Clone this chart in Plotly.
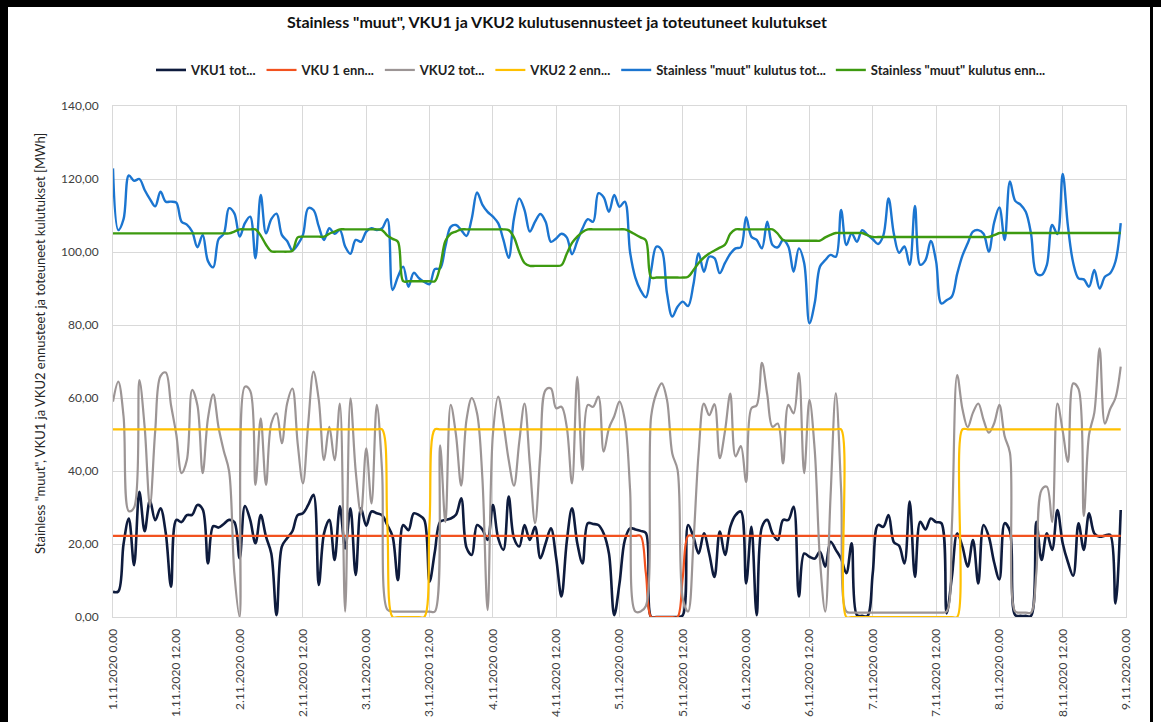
import plotly.graph_objects as go
import pandas as pd

# ---------------- data (hourly, 1.11.2020 0:00 -> 8.11.2020 23:00) ----------------
time_labels = ["1.11.2020 0.00", "1.11.2020 12.00", "2.11.2020 0.00", "2.11.2020 12.00",
               "3.11.2020 0.00", "3.11.2020 12.00", "4.11.2020 0.00", "4.11.2020 12.00",
               "5.11.2020 0.00", "5.11.2020 12.00", "6.11.2020 0.00", "6.11.2020 12.00",
               "7.11.2020 0.00", "7.11.2020 12.00", "8.11.2020 0.00", "8.11.2020 12.00",
               "9.11.2020 0.00"]
y_tick_values = [0, 20, 40, 60, 80, 100, 120, 140]
y_tick_labels = ["0,00", "20,00", "40,00", "60,00", "80,00", "100,00", "120,00", "140,00"]

vku1_tot = [
    6.9, 7.0, 20.0, 27.0, 14.2, 34.3, 23.5, 32.0, 26.5, 29.8, 23.0, 8.3,
    26.6, 26.0, 27.9, 28.0, 30.7, 29.5, 14.7, 24.9, 24.5, 25.5, 26.6, 26.0,
    16.1, 30.4, 26.6, 20.2, 27.9, 22.0, 17.4, 0.5, 19.3, 21.6, 23.5, 27.9,
    28.4, 30.7, 33.5, 8.8, 22.9, 26.6, 15.6, 30.3, 18.8, 29.8, 11.5, 29.8,
    25.0, 28.9, 28.4, 27.9, 25.2, 22.0, 10.1, 25.2, 23.8, 28.4, 27.9, 26.6,
    9.7, 17.9, 26.1, 26.6, 27.0, 28.0, 32.5, 19.0, 17.0, 25.2, 24.0, 21.1,
    30.7, 21.6, 18.4, 33.0, 21.6, 19.3, 25.2, 21.1, 24.7, 16.1, 20.2, 24.3,
    16.1, 5.6, 20.6, 29.8, 20.2, 14.7, 25.7, 25.5, 25.2, 22.9, 17.4, 0.5,
    9.2, 21.0, 24.3, 24.0, 23.6, 23.0, 0.0, 0.0, 0.0, 0.0, 0.0, 0.0,
    0.5, 25.2, 22.0, 17.4, 22.9, 17.4, 11.0, 23.4, 17.0, 24.7, 27.9, 28.9,
    9.2, 24.7, 0.5, 24.7, 26.6, 22.9, 21.1, 26.6, 26.6, 30.2, 5.6, 17.4,
    16.5, 16.0, 17.9, 13.8, 20.6, 18.4, 16.0, 12.0, 20.2, 0.5, 0.3, 0.3,
    12.0, 25.2, 24.7, 27.9, 20.5, 19.5, 14.7, 31.6, 11.0, 26.1, 24.0, 27.0,
    26.0, 25.7, 1.0, 11.0, 22.9, 19.3, 13.8, 21.1, 9.2, 25.2, 22.0, 15.0,
    10.3, 25.7, 23.5, 0.5, 0.3, 0.3, 0.3, 26.1, 15.6, 22.9, 18.4, 29.3,
    20.2, 15.0, 11.3, 25.7, 18.4, 28.4, 22.9, 22.0, 22.3, 22.5, 3.7, 29.3,
]

vku1_enn = [
    22.2, 22.2, 22.2, 22.2, 22.2, 22.2, 22.2, 22.2, 22.2, 22.2, 22.2, 22.2,
    22.2, 22.2, 22.2, 22.2, 22.2, 22.2, 22.2, 22.2, 22.2, 22.2, 22.2, 22.2,
    22.2, 22.2, 22.2, 22.2, 22.2, 22.2, 22.2, 22.2, 22.2, 22.2, 22.2, 22.2,
    22.2, 22.2, 22.2, 22.2, 22.2, 22.2, 22.2, 22.2, 22.2, 22.2, 22.2, 22.2,
    22.2, 22.2, 22.2, 22.2, 22.2, 22.2, 22.2, 22.2, 22.2, 22.2, 22.2, 22.2,
    22.2, 22.2, 22.2, 22.2, 22.2, 22.2, 22.2, 22.2, 22.2, 22.2, 22.2, 22.2,
    22.2, 22.2, 22.2, 22.2, 22.2, 22.2, 22.2, 22.2, 22.2, 22.2, 22.2, 22.2,
    22.2, 22.2, 22.2, 22.2, 22.2, 22.2, 22.2, 22.2, 22.2, 22.2, 22.2, 22.2,
    22.2, 22.2, 22.2, 22.2, 22.2, 12.0, 0.0, 0.0, 0.0, 0.0, 0.0, 0.0,
    11.0, 22.2, 22.2, 22.2, 22.2, 22.2, 22.2, 22.2, 22.2, 22.2, 22.2, 22.2,
    22.2, 22.2, 22.2, 22.2, 22.2, 22.2, 22.2, 22.2, 22.2, 22.2, 22.2, 22.2,
    22.2, 22.2, 22.2, 22.2, 22.2, 22.2, 22.2, 22.2, 22.2, 22.2, 22.2, 22.2,
    22.2, 22.2, 22.2, 22.2, 22.2, 22.2, 22.2, 22.2, 22.2, 22.2, 22.2, 22.2,
    22.2, 22.2, 22.2, 22.2, 22.2, 22.2, 22.2, 22.2, 22.2, 22.2, 22.2, 22.2,
    22.2, 22.2, 22.2, 22.2, 22.2, 22.2, 22.2, 22.2, 22.2, 22.2, 22.2, 22.2,
    22.2, 22.2, 22.2, 22.2, 22.2, 22.2, 22.2, 22.2, 22.2, 22.2, 22.2, 22.2,
]

vku2_tot = [
    59.0, 64.5, 55.0, 29.0, 30.0, 64.9, 52.0, 30.5, 51.0, 66.0, 67.0, 58.0,
    50.0, 39.4, 43.0, 62.2, 58.0, 39.4, 54.5, 61.0, 52.0, 45.5, 40.0, 12.0,
    0.0, 63.1, 62.0, 36.2, 54.4, 36.2, 53.0, 55.8, 47.6, 58.5, 62.6, 47.6,
    36.6, 53.0, 67.2, 59.5, 43.0, 52.1, 43.0, 58.5, 1.5, 59.9, 40.0, 28.4,
    46.2, 31.1, 58.1, 40.0, 2.0, 1.5, 1.5, 1.5, 1.5, 1.5, 1.5, 1.5,
    1.5, 1.5, 47.0, 26.0, 58.1, 50.0, 36.0, 54.0, 60.0, 55.8, 38.4, 1.9,
    50.0, 60.4, 53.0, 43.0, 36.0, 48.0, 58.5, 42.0, 25.7, 45.0, 62.2, 62.6,
    57.2, 57.6, 52.1, 36.6, 65.8, 40.3, 58.1, 57.6, 60.4, 45.3, 51.7, 55.0,
    59.0, 54.0, 35.0, 1.5, 1.5, 3.0, 55.0, 61.3, 64.0, 59.5, 44.8, 40.3,
    5.0, 1.5, 20.0, 45.0, 58.5, 55.3, 58.3, 43.5, 51.0, 61.2, 44.0, 46.8,
    37.0, 57.2, 58.0, 69.6, 61.0, 52.1, 53.0, 42.1, 58.1, 55.8, 66.8, 39.4,
    59.5, 45.8, 15.6, 1.5, 33.0, 61.3, 35.0, 1.5, 1.2, 1.2, 1.2, 1.2,
    1.2, 1.2, 1.2, 1.2, 1.2, 1.2, 1.2, 1.2, 1.2, 1.2, 1.2, 1.2,
    1.2, 1.2, 1.5, 25.0, 66.3, 57.0, 52.0, 56.0, 58.5, 54.0, 50.5, 53.0,
    58.1, 49.5, 45.0, 1.5, 1.2, 1.2, 1.2, 12.0, 34.8, 35.7, 26.0, 58.5,
    51.0, 42.5, 64.0, 62.5, 27.7, 50.0, 56.0, 73.6, 53.0, 57.0, 60.0, 68.6,
]

vku2_enn = [
    51.4, 51.4, 51.4, 51.4, 51.4, 51.4, 51.4, 51.4, 51.4, 51.4, 51.4, 51.4,
    51.4, 51.4, 51.4, 51.4, 51.4, 51.4, 51.4, 51.4, 51.4, 51.4, 51.4, 51.4,
    51.4, 51.4, 51.4, 51.4, 51.4, 51.4, 51.4, 51.4, 51.4, 51.4, 51.4, 51.4,
    51.4, 51.4, 51.4, 51.4, 51.4, 51.4, 51.4, 51.4, 51.4, 51.4, 51.4, 51.4,
    51.4, 51.4, 51.4, 51.4, 25.0, 0.0, 0.0, 0.0, 0.0, 0.0, 0.0, 0.0,
    26.0, 51.4, 51.4, 51.4, 51.4, 51.4, 51.4, 51.4, 51.4, 51.4, 51.4, 51.4,
    51.4, 51.4, 51.4, 51.4, 51.4, 51.4, 51.4, 51.4, 51.4, 51.4, 51.4, 51.4,
    51.4, 51.4, 51.4, 51.4, 51.4, 51.4, 51.4, 51.4, 51.4, 51.4, 51.4, 51.4,
    51.4, 51.4, 51.4, 51.4, 51.4, 51.4, 51.4, 51.4, 51.4, 51.4, 51.4, 51.4,
    51.4, 51.4, 51.4, 51.4, 51.4, 51.4, 51.4, 51.4, 51.4, 51.4, 51.4, 51.4,
    51.4, 51.4, 51.4, 51.4, 51.4, 51.4, 51.4, 51.4, 51.4, 51.4, 51.4, 51.4,
    51.4, 51.4, 51.4, 51.4, 51.4, 51.4, 51.4, 0.0, 0.0, 0.0, 0.0, 0.0,
    0.0, 0.0, 0.0, 0.0, 0.0, 0.0, 0.0, 0.0, 0.0, 0.0, 0.0, 0.0,
    0.0, 0.0, 0.0, 0.0, 0.0, 51.4, 51.4, 51.4, 51.4, 51.4, 51.4, 51.4,
    51.4, 51.4, 51.4, 51.4, 51.4, 51.4, 51.4, 51.4, 51.4, 51.4, 51.4, 51.4,
    51.4, 51.4, 51.4, 51.4, 51.4, 51.4, 51.4, 51.4, 51.4, 51.4, 51.4, 51.4,
]

muut_tot = [
    122.9, 106.0, 109.0, 121.0, 119.5, 120.0, 117.0, 114.5, 112.5, 116.5, 113.8, 113.8,
    113.5, 108.3, 107.5, 105.6, 101.3, 104.7, 97.5, 95.8, 103.5, 105.0, 112.0, 110.6,
    104.2, 107.9, 109.7, 98.3, 115.6, 105.1, 109.0, 110.5, 104.7, 103.0, 100.5, 102.0,
    104.7, 112.0, 111.5, 107.0, 103.3, 106.5, 105.0, 106.0, 101.5, 99.5, 103.3, 102.8,
    105.6, 106.5, 106.0, 106.5, 109.0, 89.6, 93.2, 96.0, 90.5, 94.3, 92.8, 91.8,
    91.2, 95.3, 95.5, 101.5, 106.9, 107.4, 106.0, 104.4, 109.2, 116.3, 113.0, 111.0,
    109.7, 107.9, 103.3, 98.4, 109.2, 114.7, 111.5, 105.6, 108.3, 110.4, 108.3, 102.8,
    103.7, 105.0, 104.0, 99.4, 103.0, 106.5, 109.0, 108.3, 116.1, 115.0, 111.0, 115.6,
    112.4, 113.8, 100.0, 93.0, 89.5, 87.6, 95.0, 101.5, 100.5, 88.7, 82.3, 85.0,
    86.4, 85.2, 91.0, 99.6, 94.6, 98.7, 98.3, 94.2, 97.0, 99.5, 101.0, 101.3,
    109.5, 104.2, 103.3, 101.0, 108.3, 101.9, 101.3, 103.3, 101.5, 94.6, 101.0, 97.0,
    80.5, 86.0, 96.0, 97.8, 99.2, 98.7, 111.5, 101.9, 105.1, 102.8, 106.0, 104.7,
    103.5, 102.2, 104.5, 114.7, 105.0, 99.8, 101.5, 96.5, 112.6, 96.5, 97.8, 103.0,
    97.5, 85.9, 86.8, 87.8, 94.0, 99.0, 102.4, 105.6, 106.0, 105.0, 100.1, 108.0,
    112.2, 103.3, 119.3, 114.0, 113.0, 111.0, 105.0, 94.2, 93.7, 96.5, 107.4, 104.9,
    121.4, 107.0, 97.0, 92.8, 92.5, 90.5, 95.1, 90.0, 93.2, 94.2, 97.4, 107.9,
]

muut_enn = [
    105.1, 105.1, 105.1, 105.1, 105.1, 105.1, 105.1, 105.1, 105.1, 105.1, 105.1, 105.1,
    105.1, 105.1, 105.1, 105.1, 105.1, 105.1, 105.1, 105.1, 105.1, 105.1, 105.1, 105.6,
    106.2, 106.2, 106.2, 106.2, 104.5, 102.0, 100.2, 100.1, 100.1, 100.1, 100.3, 104.0,
    104.2, 104.2, 104.2, 104.2, 104.2, 105.0, 105.6, 106.2, 106.2, 106.2, 106.2, 106.2,
    106.2, 106.2, 106.2, 106.0, 104.5, 103.6, 102.8, 92.0, 92.0, 92.0, 92.0, 92.0,
    92.0, 92.0, 96.0, 103.0, 105.0, 105.6, 106.2, 106.2, 106.2, 106.2, 106.2, 106.2,
    106.2, 106.2, 106.2, 106.0, 104.0, 100.0, 97.0, 96.2, 96.2, 96.2, 96.2, 96.2,
    96.2, 96.4, 99.5, 102.5, 104.2, 105.5, 106.2, 106.2, 106.2, 106.2, 106.2, 106.2,
    106.2, 106.2, 105.6, 104.8, 104.0, 103.2, 93.0, 93.0, 93.0, 93.0, 93.0, 93.0,
    93.0, 93.2, 95.0, 97.0, 98.5, 99.6, 100.4, 101.2, 102.0, 105.0, 106.2, 106.2,
    106.2, 106.2, 106.2, 106.2, 106.2, 106.2, 105.0, 103.3, 103.1, 103.1, 103.1, 103.1,
    103.1, 103.1, 103.1, 104.0, 104.7, 105.2, 105.2, 105.2, 105.2, 105.2, 105.2, 104.6,
    104.1, 104.1, 104.1, 104.1, 104.1, 104.1, 104.1, 104.1, 104.1, 104.1, 104.1, 104.1,
    104.1, 104.1, 104.1, 104.1, 104.1, 104.1, 104.1, 104.1, 104.1, 104.1, 104.1, 104.6,
    105.2, 105.2, 105.2, 105.2, 105.2, 105.2, 105.2, 105.2, 105.2, 105.2, 105.2, 105.2,
    105.2, 105.2, 105.2, 105.2, 105.2, 105.2, 105.2, 105.2, 105.2, 105.2, 105.2, 105.2,
]

series_names = ['VKU1 tot...', 'VKU 1 enn...', 'VKU2 tot...', 'VKU2 2 enn...',
                'Stainless "muut" kulutus tot...', 'Stainless "muut" kulutus enn...']
series_values = [vku1_tot, vku1_enn, vku2_tot, vku2_enn, muut_tot, muut_enn]

# ---------------- styles ----------------
series_colors = ['#0E1B3D', '#F2521F', '#9C9595', '#FFC000', '#1B75D0', '#3D9A10']
series_widths = [2.6, 2.2, 2.2, 2.2, 2.4, 2.4]

for vals in series_values:
    if len(vals) != 192:
        raise ValueError("length %d" % len(vals))

times = pd.date_range("2020-11-01 00:00", periods=192, freq="h")
tick_times = pd.date_range("2020-11-01 00:00", "2020-11-09 00:00", freq="12h")

FONT = "Lato, 'Open Sans', sans-serif"

fig = go.Figure()
for name, vals, col, w in zip(series_names, series_values, series_colors, series_widths):
    fig.add_trace(go.Scatter(
        x=times, y=vals, name=name, mode="lines",
        line=dict(color=col, width=w, shape="spline", smoothing=1.0),
    ))

# plot area in pixels
L, R, T, B = 113, 35, 106, 105
W, H = 1161, 722
PW, PH = W - L - R, H - T - B


def px(xp):
    return (xp - L) / PW


def py(yp):
    return (H - B - yp) / PH


shapes = [
    dict(type="rect", xref="paper", yref="paper", x0=px(0), x1=px(8), y0=py(H), y1=py(0),
         fillcolor="black", line=dict(width=0), layer="above"),
    dict(type="rect", xref="paper", yref="paper", x0=px(0), x1=px(W), y0=py(7), y1=py(0),
         fillcolor="black", line=dict(width=0), layer="above"),
    dict(type="rect", xref="paper", yref="paper", x0=px(1150), x1=px(1153), y0=py(H), y1=py(0),
         fillcolor="black", line=dict(width=0), layer="above"),
]

fig.update_layout(
    width=W, height=H,
    margin=dict(l=L, r=R, t=T, b=B, autoexpand=False),
    paper_bgcolor="white", plot_bgcolor="white",
    font=dict(family=FONT, color="#404040"),
    title=dict(text='<b>Stainless "muut", VKU1 ja VKU2 kulutusennusteet ja toteutuneet kulutukset</b>',
               x=557 / W, xref="container", xanchor="center",
               y=1 - 22 / H, yref="container", yanchor="middle",
               font=dict(size=16, color="#111111", family=FONT)),
    legend=dict(orientation="h", x=px(601), xanchor="center", y=py(70), yanchor="middle",
                font=dict(size=13, color="#222222", family=FONT, weight="bold"),
                bgcolor="rgba(0,0,0,0)", itemwidth=30, tracegroupgap=0),
    xaxis=dict(range=[times[0], pd.Timestamp("2020-11-09 00:00")],
               tickmode="array", tickvals=tick_times, ticktext=time_labels,
               tickangle=-90, tickfont=dict(size=12, color="#404040", family=FONT),
               showgrid=True, gridcolor="#D9D9D9", gridwidth=1,
               showline=True, linecolor="#D9D9D9", linewidth=1, mirror=True,
               ticks="", zeroline=False, ticklabelstandoff=6),
    yaxis=dict(range=[0, 140], tickmode="array", tickvals=y_tick_values, ticktext=y_tick_labels,
               tickfont=dict(size=12, color="#404040", family=FONT),
               showgrid=True, gridcolor="#D9D9D9", gridwidth=1,
               showline=True, linecolor="#D9D9D9", linewidth=1, mirror=True,
               ticks="", zeroline=False, ticklabelstandoff=11),
    shapes=shapes,
    annotations=[dict(text='Stainless "muut", VKU1 ja VKU2 ennusteet ja toteuneet kulutukset [MWh]',
                      xref="paper", yref="paper", x=px(40), y=py(344),
                      xanchor="center", yanchor="middle", textangle=-90, showarrow=False,
                      font=dict(size=13, color="#262626", family=FONT))],
    showlegend=True,
)

fig.write_html("out.html",
               config={"displayModeBar": False},
               post_script="document.body.style.margin='0';document.body.style.padding='0';"
                           "document.body.style.overflow='hidden';")
